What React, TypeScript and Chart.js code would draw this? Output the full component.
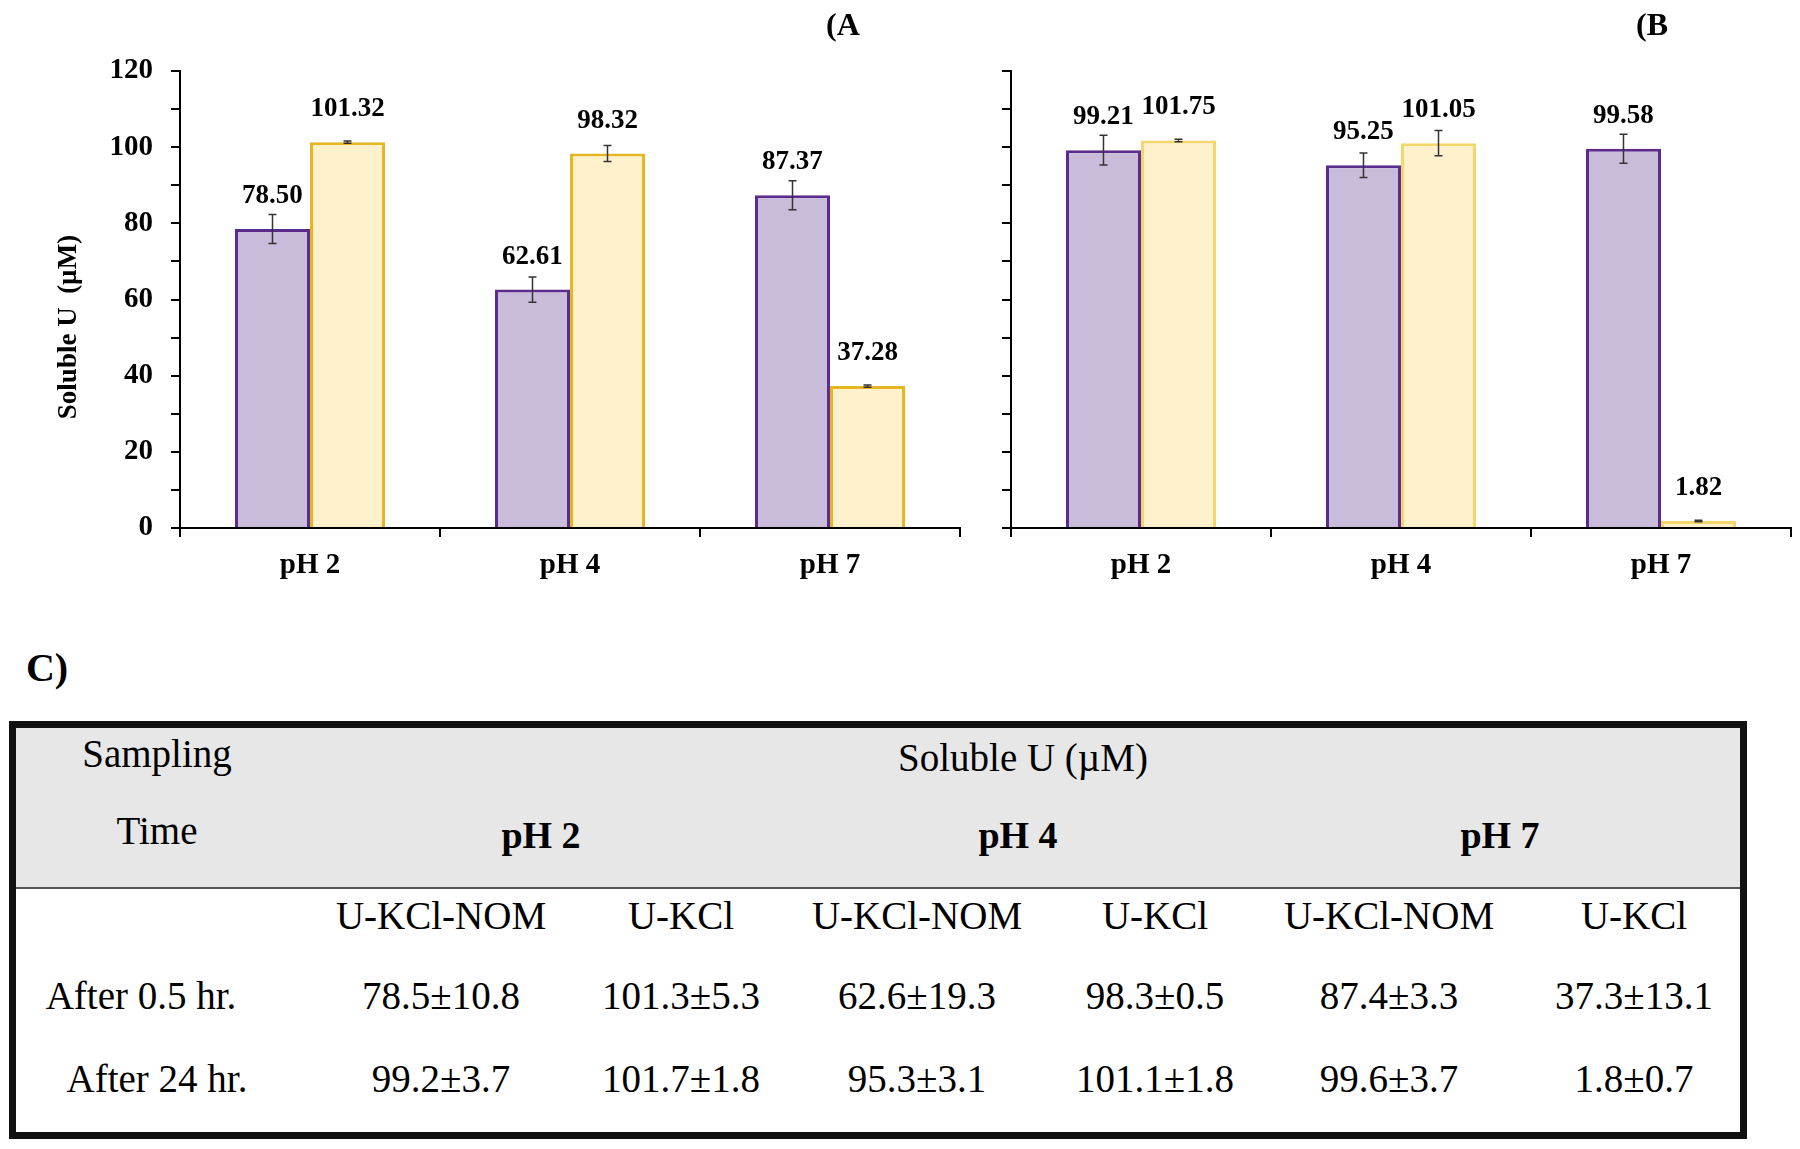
import React, { useEffect, useRef } from "react";
import { Chart, registerables } from "chart.js";

Chart.register(...registerables);

// ---------- DATA ----------
const categories = ["pH 2", "pH 4", "pH 7"];
const seriesNames = ["U-KCl-NOM", "U-KCl"];

// Panel (A: after 0.5 hr
const panelA_nom = [78.5, 62.61, 87.37];
const panelA_kcl = [101.32, 98.32, 37.28];
const panelA_nomErr = [3.8, 3.3, 3.8];
const panelA_kclErr = [0.3, 2.1, 0.3];

// Panel (B: after 24 hr
const panelB_nom = [99.21, 95.25, 99.58];
const panelB_kcl = [101.75, 101.05, 1.82];
const panelB_nomErr = [3.9, 3.2, 3.8];
const panelB_kclErr = [0.3, 3.3, 0.2];

const yMin = 0;
const yMax = 120;
const yStep = 10;
const yLabelStep = 20;
const yAxisTitle = "Soluble U  (\u00b5M)";

// Table C)
const tableTitle = "Soluble U (\u00b5M)";
const tableGroups = ["pH 2", "pH 4", "pH 7"];
const tableColumns = ["U-KCl-NOM", "U-KCl", "U-KCl-NOM", "U-KCl", "U-KCl-NOM", "U-KCl"];
const tableRowLabels = ["After 0.5 hr.", "After 24 hr."];
const tableRow05 = ["78.5\u00b110.8", "101.3\u00b15.3", "62.6\u00b119.3", "98.3\u00b10.5", "87.4\u00b13.3", "37.3\u00b113.1"];
const tableRow24 = ["99.2\u00b13.7", "101.7\u00b11.8", "95.3\u00b13.1", "101.1\u00b11.8", "99.6\u00b13.7", "1.8\u00b10.7"];

// ---------- STYLE ----------
const SERIF = '"Liberation Serif", "Times New Roman", serif';
const PURPLE_FILL = "#c9bcda";
const PURPLE_BORDER = "#5b2b8e";
const YELLOW_FILL = "#fff1cb";

const overlayPlugin = {
  id: "overlay",
  afterDatasetsDraw(chart: any, _args: any, opts: any) {
    const ctx = chart.ctx;
    const yScale = chart.scales.y;
    chart.data.datasets.forEach((ds: any, di: number) => {
      const meta = chart.getDatasetMeta(di);
      const errs = opts.errors[di];
      meta.data.forEach((bar: any, i: number) => {
        const v = ds.data[i];
        const e = errs[i];
        const x = bar.x;
        const yTop = yScale.getPixelForValue(v + e);
        const yBot = yScale.getPixelForValue(v - e);
        ctx.save();
        ctx.strokeStyle = "#333333";
        ctx.lineWidth = 1.5;
        ctx.beginPath();
        ctx.moveTo(x, yTop);
        ctx.lineTo(x, yBot);
        ctx.moveTo(x - 4, yTop);
        ctx.lineTo(x + 4, yTop);
        ctx.moveTo(x - 4, yBot);
        ctx.lineTo(x + 4, yBot);
        ctx.stroke();
        ctx.fillStyle = "#000";
        ctx.font = `bold 27px ${SERIF}`;
        ctx.textAlign = "center";
        ctx.textBaseline = "middle";
        ctx.fillText(v.toFixed(2), x, bar.y - 33);
        ctx.restore();
      });
    });
    if (opts.yTitle) {
      const ctx2 = chart.ctx;
      ctx2.save();
      ctx2.translate(69, chart.chartArea.bottom - 201);
      ctx2.rotate(-Math.PI / 2);
      ctx2.fillStyle = "#000";
      ctx2.font = `bold 27px ${SERIF}`;
      ctx2.textAlign = "center";
      ctx2.textBaseline = "middle";
      ctx2.fillText(opts.yTitle, 0, 0);
      ctx2.restore();
    }
  },
};

type PanelProps = {
  nom: number[];
  kcl: number[];
  nomErr: number[];
  kclErr: number[];
  left: number;
  width: number;
  height: number;
  yAxisWidth: number;
  padRight: number;
  showYLabels: boolean;
  kclBorder: string;
  yTitle?: string;
};

function BarPanel(p: PanelProps) {
  const ref = useRef<HTMLCanvasElement | null>(null);
  useEffect(() => {
    if (!ref.current) return;
    const chart = new Chart(ref.current, {
      type: "bar",
      data: {
        labels: categories,
        datasets: [
          {
            label: seriesNames[0],
            data: p.nom,
            backgroundColor: PURPLE_FILL,
            borderColor: PURPLE_BORDER,
            borderWidth: 3,
            categoryPercentage: 0.577,
            barPercentage: 1.0,
          },
          {
            label: seriesNames[1],
            data: p.kcl,
            backgroundColor: YELLOW_FILL,
            borderColor: p.kclBorder,
            borderWidth: 3,
            categoryPercentage: 0.577,
            barPercentage: 1.0,
          },
        ],
      },
      options: {
        responsive: false,
        animation: false,
        events: [],
        layout: { padding: { left: 0, right: p.padRight, top: 71, bottom: 0 } },
        plugins: {
          legend: { display: false },
          tooltip: { enabled: false },
          overlay: { errors: [p.nomErr, p.kclErr], yTitle: p.yTitle },
        } as any,
        scales: {
          x: {
            grid: {
              offset: true,
              drawOnChartArea: false,
              drawTicks: true,
              tickLength: 9,
              color: "#000",
              lineWidth: 2,
            },
            border: { display: true, color: "#000", width: 2 },
            ticks: {
              color: "#000",
              padding: 11,
              font: { family: SERIF, size: 29, weight: "bold" },
              maxRotation: 0,
            },
            afterFit: (s: any) => {
              s.height = 72;
            },
          },
          y: {
            min: yMin,
            max: yMax,
            grid: {
              drawOnChartArea: false,
              drawTicks: true,
              tickLength: 9,
              color: "#000",
              lineWidth: 2,
            },
            border: { display: true, color: "#000", width: 2 },
            ticks: {
              stepSize: yStep,
              color: "#000",
              padding: 18,
              font: { family: SERIF, size: 29, weight: "bold" },
              callback: (v: any) =>
                p.showYLabels && Number(v) % yLabelStep === 0 ? String(v) : "",
            },
            afterFit: (s: any) => {
              s.width = p.yAxisWidth;
            },
          },
        },
      } as any,
      plugins: [overlayPlugin as any],
    });
    return () => chart.destroy();
  }, []);
  return (
    <canvas
      ref={ref}
      width={p.width}
      height={p.height}
      style={{ position: "absolute", left: p.left, top: 0, width: p.width, height: p.height }}
    />
  );
}

function Txt(props: { x: number; y: number; text: string; size: number; bold?: boolean }) {
  return (
    <div
      style={{
        position: "absolute",
        left: props.x,
        top: props.y,
        transform: "translate(-50%, -50%)",
        whiteSpace: "nowrap",
        fontFamily: SERIF,
        fontSize: props.size,
        fontWeight: props.bold ? "bold" : "normal",
        color: "#000",
        lineHeight: 1,
      }}
    >
      {props.text}
    </div>
  );
}

const colX = [441, 681, 917, 1155, 1389, 1634];
const groupX = [541, 1018, 1500];

export default function App() {
  return (
    <div
      style={{
        position: "absolute",
        left: 0,
        top: 0,
        width: 1800,
        height: 1149,
        background: "#fff",
        overflow: "hidden",
      }}
    >
      <BarPanel
        nom={panelA_nom}
        kcl={panelA_kcl}
        nomErr={panelA_nomErr}
        kclErr={panelA_kclErr}
        left={0}
        width={970}
        height={600}
        yAxisWidth={180}
        padRight={10}
        showYLabels={true}
        kclBorder="#e6b722"
        yTitle={yAxisTitle}
      />
      <BarPanel
        nom={panelB_nom}
        kcl={panelB_kcl}
        nomErr={panelB_nomErr}
        kclErr={panelB_kclErr}
        left={990}
        width={810}
        height={600}
        yAxisWidth={21}
        padRight={9}
        showYLabels={false}
        kclBorder="#f3d66c"
      />
      <Txt x={843} y={24} text="(A" size={32} bold />
      <Txt x={1652} y={24} text="(B" size={32} bold />

      <Txt x={47} y={668} text="C)" size={40} bold />

      <div
        style={{
          position: "absolute",
          left: 9,
          top: 721,
          width: 1738,
          height: 418,
          border: "7px solid #111",
          boxSizing: "border-box",
          background: "#fff",
        }}
      >
        <div
          style={{
            position: "absolute",
            left: 0,
            top: 0,
            right: 0,
            height: 159,
            background: "#e7e7e7",
            borderBottom: "2px solid #555",
          }}
        />
      </div>

      <Txt x={157} y={753} text="Sampling" size={39} />
      <Txt x={157} y={830} text="Time" size={39} />
      <Txt x={1023} y={757} text={tableTitle} size={39} />
      {tableGroups.map((g, i) => (
        <Txt key={"g" + i} x={groupX[i]} y={835} text={g} size={38} bold />
      ))}
      {tableColumns.map((c, i) => (
        <Txt key={"c" + i} x={colX[i]} y={915} text={c} size={39} />
      ))}
      <Txt x={141} y={995} text={tableRowLabels[0]} size={39} />
      <Txt x={157} y={1078} text={tableRowLabels[1]} size={39} />
      {tableRow05.map((c, i) => (
        <Txt key={"r1" + i} x={colX[i]} y={995} text={c} size={39} />
      ))}
      {tableRow24.map((c, i) => (
        <Txt key={"r2" + i} x={colX[i]} y={1078} text={c} size={39} />
      ))}
    </div>
  );
}
